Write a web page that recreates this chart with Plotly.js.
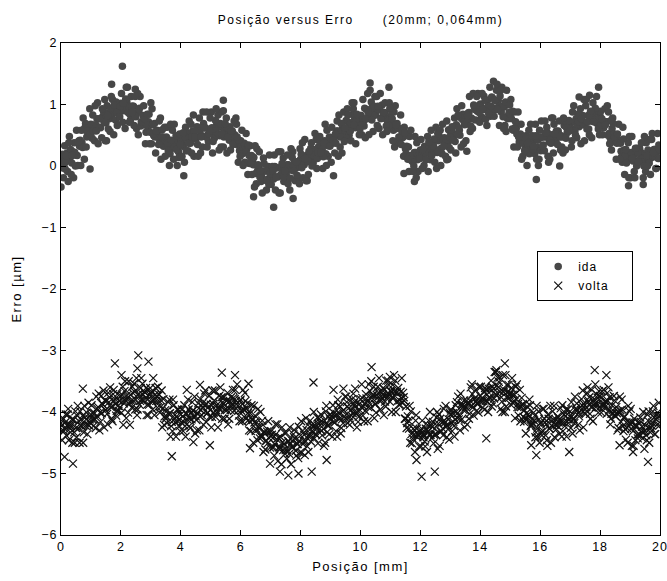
<!DOCTYPE html>
<html>
<head>
<meta charset="utf-8">
<script src="https://cdn.plot.ly/plotly-3.0.1.min.js"></script>
<style>
html,body{margin:0;padding:0;background:#fff;}
#chart{width:667px;height:581px;}
#chart text{letter-spacing:1px;}
#chart .gtitle, #chart .xtitle, #chart .ytitle{letter-spacing:1.5px;}
</style>
</head>
<body>
<div id="chart"></div>
<script>
// Positions [mm]: sampled grid, 0.1 mm step (five interleaved sweeps)
const posStep = 0.1;
const sweepOffsets = [0, 0.02, 0.04, 0.06, 0.08];

// ida (forward) — error readings [µm], one array per sweep
const idaSweep1 = [
 0.12,0.02,0.21,0.14,0.23,0.18,0.41,0.38,0.62,0.53,
 0.68,0.58,0.77,0.63,0.81,0.70,0.86,0.79,0.97,0.88,
 1.02,0.90,1.04,0.84,0.97,0.80,0.88,0.69,0.76,0.63,
 0.67,0.49,0.58,0.40,0.47,0.33,0.42,0.29,0.41,0.31,
 0.47,0.35,0.46,0.39,0.57,0.44,0.61,0.49,0.62,0.51,
 0.60,0.54,0.67,0.49,0.62,0.50,0.56,0.43,0.51,0.34,
 0.41,0.24,0.27,0.04,0.07,-0.12,-0.02,-0.17,-0.08,-0.22,
 -0.09,-0.21,-0.03,-0.16,-0.04,-0.12,0.02,-0.07,0.06,-0.02,
 0.11,0.03,0.17,0.08,0.26,0.14,0.31,0.24,0.41,0.33,
 0.46,0.39,0.57,0.48,0.61,0.53,0.71,0.63,0.76,0.68,
 0.82,0.73,0.92,0.84,0.97,0.83,0.91,0.78,0.87,0.73,
 0.81,0.58,0.61,0.43,0.46,0.28,0.31,0.09,0.22,0.10,
 0.26,0.18,0.31,0.20,0.36,0.24,0.41,0.29,0.46,0.38,
 0.56,0.48,0.67,0.58,0.76,0.69,0.86,0.78,0.96,0.89,
 1.01,0.93,1.07,0.96,1.11,0.94,1.06,0.88,0.96,0.78,
 0.81,0.58,0.61,0.39,0.46,0.29,0.41,0.28,0.42,0.30,
 0.46,0.34,0.47,0.39,0.51,0.43,0.57,0.49,0.66,0.54,
 0.71,0.59,0.77,0.64,0.81,0.69,0.82,0.73,0.87,0.69,
 0.81,0.64,0.72,0.53,0.61,0.39,0.41,0.24,0.26,0.09,
 0.21,0.08,0.22,0.09,0.21,0.10,0.26,0.13,0.27,0.14,
 0.24];
const idaSweep2 = [
 -0.03,0.33,-0.09,0.27,-0.19,0.58,0.32,0.30,0.69,0.62,
 0.67,0.41,1.03,0.62,0.89,0.41,0.77,1.08,0.75,0.97,
 1.18,0.92,1.28,0.75,0.97,0.61,0.94,0.67,0.36,0.72,
 0.36,0.69,0.47,0.78,0.32,0.47,0.01,0.58,0.37,0.23,
 0.42,0.06,0.54,0.37,0.83,0.47,0.78,0.31,0.62,0.40,
 0.88,0.45,0.62,0.69,0.31,0.78,0.42,0.57,0.42,0.06,
 0.32,0.37,0.05,0.33,0.02,-0.29,0.23,-0.44,-0.23,-0.01,
 -0.30,0.18,-0.03,-0.44,0.13,-0.13,-0.03,0.14,-0.24,0.02,
 0.19,0.02,-0.24,0.17,0.05,0.43,0.32,0.27,0.68,0.16,
 0.06,0.47,0.73,0.31,0.52,0.74,0.50,1.03,0.62,0.82,
 0.82,0.65,0.77,1.23,0.56,0.92,0.61,0.99,1.03,0.77,
 0.67,0.88,0.69,0.47,0.47,0.20,-0.09,0.17,0.48,-0.09,
 0.43,0.01,0.27,0.32,0.22,0.63,0.49,0.20,0.37,0.11,
 0.26,0.52,0.93,0.50,0.84,0.41,0.87,0.77,0.92,1.18,
 0.97,1.14,0.66,1.28,0.90,1.07,0.97,1.28,0.66,0.77,
 1.08,0.31,0.52,0.37,0.16,0.49,0.58,0.37,0.20,0.42,
 0.25,0.47,0.63,0.11,0.78,0.42,0.52,0.31,0.74,0.57,
 0.62,0.98,0.46,0.72,0.82,0.98,0.60,0.46,0.72,0.89,
 0.89,0.62,0.72,0.36,0.78,0.42,0.68,0.15,-0.14,0.17,
 -0.19,0.17,0.00,0.29,0.12,-0.09,0.12,0.43,0.27,0.53];
const idaSweep3 = [
 0.19,-0.05,0.17,-0.14,0.38,0.17,0.42,0.78,0.31,0.57,
 0.45,0.98,0.36,0.77,0.72,0.98,0.56,0.87,1.04,0.87,
 0.92,0.61,0.87,1.13,0.66,0.87,1.13,0.82,0.55,0.84,
 0.93,0.47,0.57,0.11,0.42,0.63,0.20,0.32,0.49,0.14,
 0.16,0.47,0.25,0.68,0.16,0.64,0.57,0.88,0.47,0.52,
 0.62,0.57,0.83,0.31,0.47,0.21,0.64,0.35,0.78,0.42,
 0.58,0.06,-0.14,0.07,0.14,0.28,-0.18,-0.08,-0.08,-0.30,
 -0.13,-0.01,-0.18,0.23,-0.25,0.02,-0.39,0.23,-0.03,-0.19,
 -0.03,0.43,0.07,0.29,0.27,-0.04,0.48,-0.04,0.20,0.42,
 0.63,0.21,0.57,0.47,0.88,0.45,0.67,0.84,0.36,0.72,
 0.51,0.94,1.18,0.92,0.82,1.13,0.92,0.51,0.77,0.65,
 0.89,0.31,0.40,0.83,0.16,0.32,0.48,0.07,0.22,0.17,
 0.17,0.32,0.48,0.10,0.32,-0.04,0.27,0.68,0.16,0.59,
 0.57,0.78,0.52,0.79,0.36,0.77,1.13,0.61,0.75,0.92,
 0.80,0.92,1.07,0.81,1.38,1.23,0.66,0.97,1.04,0.82,
 0.77,0.88,0.31,0.52,0.37,0.27,0.20,0.49,0.68,0.01,
 0.73,0.25,0.54,0.42,0.21,0.57,0.73,0.47,0.26,0.62,
 0.31,0.72,0.67,0.93,0.67,1.08,0.51,0.82,0.94,0.60,
 0.67,0.72,0.98,0.45,0.69,0.11,0.42,0.06,0.17,0.38,
 0.22,-0.09,0.29,0.12,-0.19,0.38,0.05,0.53,0.22,0.12];
const idaSweep4 = [
 0.07,0.07,0.38,0.05,0.22,0.01,0.01,0.59,0.47,0.93,
 0.83,0.67,0.62,0.46,1.08,0.82,0.94,0.51,0.87,0.80,
 0.71,1.09,0.97,0.97,0.82,1.18,0.65,0.98,0.67,0.36,
 0.67,0.21,0.35,0.47,0.63,0.37,0.68,0.11,0.27,0.52,
 0.32,0.63,0.37,0.21,0.57,0.35,0.21,0.69,0.88,0.57,
 0.21,0.74,0.52,0.88,0.57,0.62,0.26,0.47,0.68,0.25,
 0.20,0.22,0.34,0.17,-0.34,-0.08,-0.08,0.13,-0.39,0.18,
 -0.01,-0.39,0.23,-0.13,-0.18,0.18,-0.20,0.02,0.07,-0.29,
 0.38,0.12,-0.14,0.38,0.17,0.12,0.39,0.15,0.01,0.47,
 0.37,0.52,0.16,0.69,0.40,0.93,0.57,0.93,0.72,0.51,
 0.67,0.46,0.87,1.04,0.97,0.66,1.18,0.82,0.65,1.03,
 0.77,0.98,0.62,0.35,0.63,0.49,0.17,-0.09,-0.19,0.12,
 -0.04,0.22,-0.09,0.58,0.44,0.22,0.58,0.42,0.42,0.30,
 0.64,0.40,0.83,0.31,0.72,0.72,0.56,1.18,0.97,0.87,
 1.18,1.07,0.97,0.97,0.81,1.33,1.14,0.80,0.56,0.87,
 0.60,0.62,0.88,0.68,0.47,0.01,0.37,0.27,0.49,0.11,
 0.47,0.73,0.16,0.37,0.68,0.52,0.47,0.21,0.45,0.74,
 0.41,0.57,0.84,0.36,1.08,0.60,0.82,1.03,0.77,0.77,
 0.77,0.93,0.50,0.74,0.52,0.37,0.11,0.63,0.27,-0.19,
 0.48,-0.19,0.22,0.07,0.00,0.17,0.43,0.17,-0.04,0.34];
const idaSweep5 = [
 -0.19,0.17,0.48,0.17,0.00,0.39,0.58,0.11,0.57,0.52,
 0.57,0.57,0.77,0.93,0.41,0.60,1.13,0.99,0.66,0.97,
 1.02,1.28,0.71,0.87,1.13,0.51,0.72,0.77,0.84,0.55,
 0.52,0.57,0.73,0.59,0.16,0.25,0.42,0.68,0.01,0.35,
 0.54,0.25,0.73,0.47,0.47,0.16,0.47,0.62,0.31,0.78,
 0.40,0.93,0.26,0.52,0.69,0.47,0.57,0.73,0.47,0.16,
 0.01,0.53,0.17,-0.14,0.33,0.02,-0.25,0.04,-0.23,-0.13,
 -0.08,-0.18,-0.44,0.04,-0.08,-0.29,0.28,-0.08,-0.15,0.28,
 -0.19,-0.24,0.24,0.00,0.53,0.22,0.22,0.37,0.58,0.32,
 0.42,0.37,0.83,0.21,0.62,0.83,0.41,0.67,0.84,0.60,
 1.08,0.77,0.51,0.75,1.13,0.97,0.77,0.87,0.56,0.94,
 0.41,0.67,0.47,0.57,0.54,0.11,0.58,0.00,0.38,0.12,
 0.27,0.10,0.39,0.17,0.06,0.53,0.01,0.32,0.73,0.47,
 0.42,0.21,0.62,0.98,0.67,0.82,0.65,0.99,1.13,0.71,
 0.92,0.76,0.85,1.12,1.07,0.92,1.23,0.61,1.23,0.99,
 0.89,0.72,0.47,0.11,0.25,0.37,0.68,0.32,0.11,0.58,
 0.32,0.54,0.06,0.78,0.52,0.35,0.26,0.78,0.62,0.57,
 0.88,0.50,0.72,0.77,0.41,0.72,0.89,0.72,1.13,0.51,
 0.51,0.67,0.88,0.26,0.47,0.52,0.37,0.44,0.05,0.48,
 0.12,0.29,0.07,0.38,0.48,0.00,-0.14,0.22,-0.04,0.27];
// ida isolated readings
const idaOddPos = [2.05,1.69,2.48,3.0,5.42,5.42,0.0,0.24,0.97,4.1,6.43,7.1,7.75,9.1,9.78,10.32,10.95,11.45,11.8,12.88,13.55,15.87,16.65,18.95,19.44,17.95,17.3,17.65];
const idaOddErr = [1.62,1.33,1.25,1.03,1.07,0.90,-0.34,-0.25,-0.05,-0.16,-0.50,-0.67,-0.53,-0.16,1.03,1.35,1.28,-0.12,-0.25,0.10,0.24,-0.22,0.00,-0.32,-0.30,1.28,1.12,1.15];

// volta (return) — error readings [µm], one array per sweep
const voltaSweep1 = [
 -4.18,-4.31,-4.22,-4.27,-4.13,-4.26,-4.15,-4.24,-4.09,-4.21,
 -4.04,-4.12,-3.94,-4.01,-3.88,-3.97,-3.84,-3.92,-3.79,-3.90,
 -3.74,-3.86,-3.73,-3.84,-3.69,-3.80,-3.70,-3.81,-3.68,-3.79,
 -3.70,-3.82,-3.74,-4.01,-3.94,-4.11,-4.03,-4.16,-4.05,-4.15,
 -4.04,-4.16,-4.03,-4.11,-3.98,-4.07,-3.94,-4.05,-3.89,-4.01,
 -3.88,-4.01,-3.89,-3.96,-3.84,-3.95,-3.83,-3.91,-3.79,-3.90,
 -3.80,-3.96,-3.94,-4.16,-4.13,-4.31,-4.24,-4.41,-4.33,-4.51,
 -4.39,-4.57,-4.44,-4.61,-4.49,-4.62,-4.48,-4.57,-4.43,-4.52,
 -4.38,-4.47,-4.29,-4.41,-4.24,-4.36,-4.19,-4.31,-4.14,-4.22,
 -4.04,-4.16,-4.03,-4.11,-3.99,-4.10,-3.94,-4.06,-3.89,-4.01,
 -3.79,-3.91,-3.78,-3.86,-3.74,-3.87,-3.69,-3.81,-3.64,-3.76,
 -3.65,-3.77,-3.69,-3.81,-3.84,-4.11,-4.14,-4.36,-4.29,-4.41,
 -4.29,-4.41,-4.28,-4.37,-4.24,-4.36,-4.19,-4.31,-4.14,-4.22,
 -4.04,-4.16,-3.99,-4.07,-3.89,-3.97,-3.84,-3.91,-3.79,-3.87,
 -3.74,-3.82,-3.64,-3.76,-3.59,-3.71,-3.60,-3.76,-3.64,-3.77,
 -3.69,-3.86,-3.79,-3.92,-3.89,-4.11,-4.04,-4.21,-4.14,-4.27,
 -4.19,-4.31,-4.20,-4.27,-4.14,-4.21,-4.09,-4.17,-4.04,-4.16,
 -3.99,-4.11,-3.94,-4.07,-3.89,-3.96,-3.84,-3.92,-3.79,-3.87,
 -3.74,-3.91,-3.84,-3.97,-3.89,-4.06,-3.99,-4.16,-4.09,-4.26,
 -4.19,-4.31,-4.24,-4.36,-4.24,-4.31,-4.14,-4.26,-4.09,-4.21,
 -4.05];
const voltaSweep2 = [
 -4.22,-4.27,-4.04,-4.33,-4.12,-4.41,-4.50,-4.06,-4.22,-3.85,
 -3.89,-4.02,-4.07,-4.16,-3.65,-3.82,-3.76,-4.15,-3.87,-3.98,
 -4.01,-3.66,-3.77,-3.72,-3.82,-3.45,-3.88,-3.54,-3.77,-4.05,
 -3.67,-4.05,-3.93,-3.92,-3.79,-4.07,-3.80,-4.31,-4.17,-3.96,
 -4.17,-3.89,-4.12,-4.26,-3.97,-4.13,-4.30,-3.86,-3.65,-3.92,
 -4.25,-3.81,-4.02,-3.60,-3.87,-3.82,-4.11,-3.87,-3.64,-3.98,
 -3.98,-3.97,-3.86,-4.02,-4.50,-4.27,-4.27,-4.14,-4.61,-4.15,
 -4.31,-4.71,-4.20,-4.57,-4.62,-4.34,-4.68,-4.47,-4.42,-4.75,
 -4.15,-4.37,-4.56,-4.14,-4.32,-4.37,-4.11,-4.38,-4.50,-4.07,
 -4.12,-4.02,-4.40,-3.91,-4.18,-3.75,-4.07,-3.79,-3.92,-4.16,
 -3.92,-4.15,-3.82,-3.66,-3.72,-4.01,-3.45,-3.77,-3.83,-3.49,
 -3.67,-3.40,-3.67,-3.88,-3.69,-3.91,-4.27,-4.51,-4.65,-4.37,
 -4.56,-4.37,-4.65,-4.00,-4.16,-4.37,-4.04,-4.17,-4.17,-4.28,
 -3.96,-4.23,-3.84,-4.30,-3.92,-3.92,-4.11,-3.55,-3.77,-3.87,
 -3.59,-3.67,-3.72,-3.77,-3.86,-3.35,-3.51,-3.83,-4.00,-3.67,
 -3.88,-3.82,-3.55,-3.64,-3.87,-4.35,-4.07,-4.22,-4.06,-4.41,
 -4.17,-3.95,-4.46,-4.27,-3.99,-4.12,-4.17,-4.40,-4.23,-3.96,
 -4.26,-4.12,-3.86,-4.30,-3.65,-4.03,-3.82,-3.64,-3.87,-3.77,
 -3.77,-3.64,-4.03,-3.76,-3.97,-4.07,-4.26,-3.80,-4.07,-4.50,
 -3.95,-4.55,-4.22,-4.37,-4.43,-4.22,-3.99,-4.22,-4.36,-4.01];
const voltaSweep3 = [
 -4.46,-4.17,-3.95,-4.22,-4.33,-4.06,-3.99,-4.50,-4.12,-4.22,
 -4.12,-4.12,-3.92,-3.74,-4.25,-4.03,-3.60,-3.71,-4.06,-3.82,
 -3.72,-3.50,-4.01,-3.82,-3.54,-4.05,-3.82,-3.72,-3.61,-3.88,
 -3.82,-3.72,-3.59,-3.81,-4.21,-4.18,-4.02,-3.80,-4.40,-4.12,
 -3.96,-4.23,-3.80,-4.02,-4.07,-4.30,-4.07,-3.92,-4.16,-3.74,
 -4.08,-3.65,-4.25,-3.92,-3.76,-3.97,-3.82,-3.64,-3.82,-4.06,
 -4.15,-3.69,-4.02,-4.31,-3.90,-4.17,-4.43,-4.21,-4.47,-4.42,
 -4.37,-4.52,-4.80,-4.41,-4.52,-4.76,-4.25,-4.57,-4.63,-4.24,
 -4.66,-4.70,-4.21,-4.48,-4.00,-4.27,-4.27,-4.17,-3.99,-4.22,
 -4.07,-4.17,-3.80,-4.35,-3.97,-3.84,-4.21,-4.02,-3.81,-4.08,
 -3.55,-3.87,-4.15,-3.93,-3.59,-3.72,-3.82,-3.72,-3.91,-3.56,
 -4.00,-3.67,-3.82,-3.67,-3.76,-4.26,-3.90,-4.43,-4.14,-4.37,
 -4.27,-4.48,-4.21,-4.37,-4.51,-4.09,-4.55,-4.27,-3.90,-4.12,
 -4.17,-4.40,-4.02,-3.70,-3.97,-3.82,-4.03,-3.71,-3.64,-4.01,
 -3.82,-3.96,-3.83,-3.62,-3.62,-3.72,-3.44,-4.00,-3.40,-3.56,
 -3.61,-3.72,-3.92,-4.15,-4.08,-4.02,-3.80,-4.17,-4.41,-3.99,
 -4.32,-4.11,-4.55,-3.90,-4.12,-4.28,-4.36,-3.89,-4.07,-4.12,
 -3.84,-4.18,-3.97,-3.92,-4.25,-3.92,-3.76,-3.92,-3.55,-4.01,
 -4.01,-3.87,-3.69,-4.20,-4.02,-3.92,-4.02,-3.96,-4.28,-3.90,
 -4.27,-4.11,-4.37,-4.09,-4.00,-4.38,-4.50,-4.17,-4.36,-4.07];
const voltaSweep4 = [
 -4.32,-4.04,-4.46,-4.12,-4.50,-3.90,-4.22,-4.33,-4.01,-4.12,
 -4.02,-4.26,-3.70,-4.02,-3.81,-4.20,-3.92,-3.64,-3.98,-3.82,
 -3.59,-3.82,-3.50,-3.93,-3.67,-3.96,-3.61,-3.82,-4.05,-3.72,
 -3.96,-3.61,-3.82,-3.65,-4.07,-3.97,-4.40,-3.89,-4.07,-4.23,
 -4.07,-4.40,-3.96,-4.12,-3.75,-4.02,-3.79,-4.21,-3.87,-4.08,
 -3.65,-4.08,-3.92,-3.76,-4.11,-3.69,-3.97,-3.77,-3.87,-4.15,
 -3.87,-3.82,-4.13,-3.89,-4.17,-4.46,-4.00,-4.65,-4.47,-4.31,
 -4.58,-4.20,-4.42,-4.85,-4.34,-4.62,-4.52,-4.36,-4.71,-4.47,
 -4.31,-4.47,-4.65,-4.32,-4.43,-4.09,-4.17,-4.27,-3.90,-4.36,
 -4.40,-4.07,-3.89,-4.26,-4.07,-3.91,-4.13,-3.70,-4.02,-3.87,
 -3.77,-3.98,-3.92,-3.50,-4.10,-3.77,-3.96,-3.61,-3.49,-3.72,
 -3.77,-3.49,-3.61,-3.77,-3.82,-4.18,-4.50,-4.27,-4.05,-4.56,
 -4.14,-4.56,-4.32,-4.22,-4.37,-4.00,-4.11,-4.38,-4.22,-4.45,
 -4.31,-4.12,-3.75,-4.13,-3.81,-4.20,-3.82,-3.92,-3.82,-3.59,
 -3.77,-3.61,-4.00,-3.49,-3.78,-3.57,-3.67,-3.40,-3.91,-3.77,
 -3.45,-4.10,-3.87,-3.92,-4.16,-3.91,-3.89,-4.12,-4.33,-4.12,
 -4.38,-4.17,-4.04,-4.50,-3.90,-4.22,-4.12,-4.31,-3.96,-4.12,
 -4.07,-3.75,-4.21,-3.97,-3.87,-3.69,-4.03,-4.15,-3.92,-3.66,
 -3.66,-3.92,-3.82,-4.11,-3.74,-4.02,-3.75,-4.23,-4.45,-4.17,
 -4.55,-4.22,-4.43,-4.16,-4.32,-4.46,-4.27,-3.99,-4.07,-3.85];
const voltaSweep5 = [
 -4.11,-4.38,-4.22,-4.50,-3.99,-4.27,-4.12,-3.90,-4.36,-4.17,
 -4.23,-3.75,-4.30,-3.87,-3.97,-3.69,-4.11,-3.82,-3.71,-3.92,
 -3.82,-4.10,-3.87,-3.59,-3.96,-3.72,-3.45,-3.67,-3.88,-3.61,
 -3.45,-3.82,-3.72,-4.25,-3.97,-3.84,-4.23,-4.12,-3.96,-4.31,
 -4.31,-4.02,-4.23,-3.84,-4.35,-3.86,-3.97,-3.70,-4.02,-3.97,
 -3.87,-3.97,-3.74,-4.11,-3.97,-4.20,-3.76,-3.98,-3.55,-3.82,
 -3.64,-4.11,-4.30,-4.12,-4.06,-3.95,-4.37,-4.32,-4.32,-4.58,
 -4.42,-4.36,-4.57,-4.25,-4.68,-4.47,-4.85,-4.29,-4.52,-4.66,
 -4.52,-4.10,-4.37,-4.21,-4.22,-4.51,-4.04,-4.55,-4.33,-4.12,
 -3.89,-4.31,-4.02,-4.12,-3.75,-4.18,-3.97,-3.86,-4.25,-3.97,
 -4.06,-3.71,-3.55,-3.77,-3.87,-3.59,-3.67,-4.05,-3.72,-3.83,
 -3.56,-4.00,-3.88,-3.45,-4.11,-4.07,-3.99,-4.37,-4.27,-4.32,
 -4.37,-4.27,-4.14,-4.43,-4.27,-4.60,-4.32,-3.95,-4.41,-4.01,
 -4.02,-3.89,-4.12,-3.86,-4.25,-3.87,-3.60,-4.06,-3.98,-3.82,
 -3.93,-3.82,-3.62,-3.91,-3.35,-3.44,-3.95,-3.67,-3.56,-3.72,
 -3.72,-3.59,-4.06,-3.77,-3.97,-4.12,-4.23,-4.01,-3.90,-4.50,
 -3.95,-4.38,-4.11,-4.22,-4.41,-4.07,-3.94,-4.17,-4.40,-4.07,
 -4.35,-3.97,-4.02,-3.79,-4.02,-3.60,-4.11,-3.82,-3.71,-3.93,
 -3.87,-3.82,-3.60,-4.03,-3.81,-4.30,-3.97,-4.31,-4.17,-3.99,
 -4.17,-4.46,-4.16,-4.32,-4.60,-4.04,-4.33,-3.90,-4.12,-4.22];
// volta isolated readings
const voltaOddPos = [2.58,1.80,2.92,2.55,2.02,0.73,3.7,0.4,0.12,5.37,5.81,4.64,4.2,6.26,8.43,4.97,4.42,6.31,6.98,7.31,7.59,7.93,8.37,8.87,2.3,2.08,9.1,9.43,9.82,10.37,10.98,14.82,14.54,17.82,18.21,12.04,12.48,11.87,14.2,15.7,15.87,16.97,18.65,19.1,19.6];
const voltaOddErr = [-3.08,-3.21,-3.18,-3.29,-3.40,-3.62,-4.72,-4.84,-4.73,-3.36,-3.40,-3.56,-3.64,-3.54,-3.52,-4.54,-4.49,-4.59,-4.84,-4.97,-5.03,-5.00,-4.97,-4.78,-4.21,-4.21,-3.64,-3.62,-3.62,-3.27,-3.43,-3.21,-3.32,-3.32,-3.40,-5.05,-4.97,-4.78,-4.43,-4.54,-4.70,-4.65,-4.54,-4.65,-4.81];

const seriesNames = ['ida','volta'];
const xTickVals = [0,2,4,6,8,10,12,14,16,18,20];
const yTickVals = [-6,-5,-4,-3,-2,-1,0,1,2];

function positionsFor(sweep, offset){ return sweep.map((_, k) => +(k*posStep + offset).toFixed(3)); }
function combine(sweeps, oddPos, oddErr){
  let xs = [], ys = [];
  sweeps.forEach((s, i) => { xs = xs.concat(positionsFor(s, sweepOffsets[i])); ys = ys.concat(s); });
  return {x: xs.concat(oddPos), y: ys.concat(oddErr)};
}
const ida = combine([idaSweep1, idaSweep2, idaSweep3, idaSweep4, idaSweep5], idaOddPos, idaOddErr);
const volta = combine([voltaSweep1, voltaSweep2, voltaSweep3, voltaSweep4, voltaSweep5], voltaOddPos, voltaOddErr);

const fam = 'Liberation Sans, Arial, sans-serif';
const font = {family: fam, size: 12, color: '#000'};
const pad = '\u00a0\u00a0\u00a0\u00a0\u00a0\u00a0\u00a0';
const traces = [
  {type:'scatter', mode:'markers', name: seriesNames[0] + pad + '\u00a0\u00a0', x: ida.x, y: ida.y,
   marker:{symbol:'circle', size:7.5, color:'#474747', line:{width:0}}},
  {type:'scatter', mode:'markers', name: seriesNames[1] + pad, x: volta.x, y: volta.y,
   marker:{symbol:'x-thin-open', size:8, color:'#111', line:{width:1.2, color:'#111'}}}
];
const axisCommon = {showline:true, linecolor:'#000', linewidth:1, mirror:'ticks', ticks:'inside', ticklen:5,
  tickcolor:'#000', showgrid:false, zeroline:false, tickfont:{family:fam, size:12.5, color:'#000'}, automargin:false};
const layout = {
  width:667, height:581,
  margin:{l:61, r:7, t:43, b:46},
  paper_bgcolor:'#fff', plot_bgcolor:'#fff',
  font: font,
  title:{text:'Posição versus Erro\u00a0\u00a0\u00a0\u00a0\u00a0\u00a0(20mm; 0,064mm)', font:{family:fam, size:12, color:'#000'},
    x:0.5, xref:'paper', xanchor:'center', y:1-20/581, yref:'container', yanchor:'middle'},
  xaxis: Object.assign({}, axisCommon, {range:[0,20], tickvals:xTickVals,
    title:{text:'Posição [mm]', font:{family:fam, size:13, color:'#000'}, standoff:8}}),
  yaxis: Object.assign({}, axisCommon, {range:[-6,2], tickvals:yTickVals,
    title:{text:'Erro [µm]', font:{family:fam, size:13, color:'#000'}, standoff:18}}),
  showlegend:true,
  legend:{x:0.795, y:0.577, xanchor:'left', yanchor:'top', bgcolor:'#fff', bordercolor:'#000', borderwidth:1,
    font:font, tracegroupgap:2}
};
Plotly.newPlot('chart', traces, layout, {displayModeBar:false, staticPlot:true});
</script>
</body>
</html>
